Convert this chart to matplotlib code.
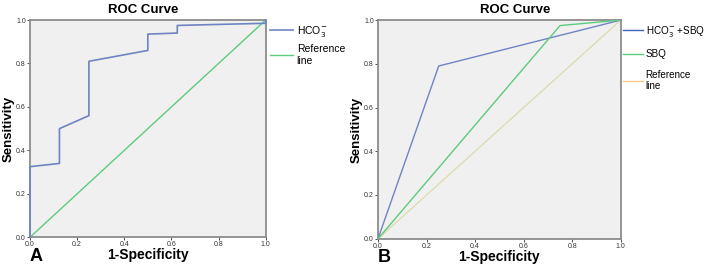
import matplotlib
matplotlib.use("Agg")
import matplotlib.pyplot as plt

plt.rcParams['font.family'] = ['Liberation Sans', 'DejaVu Sans']

# Panel A: HCO3- ROC curve
a_fpr = [0.0, 0.0, 0.125, 0.125, 0.25, 0.25, 0.5, 0.5, 0.625, 0.625, 1.0, 1.0]
a_tpr = [0.0, 0.325, 0.34, 0.50, 0.56, 0.81, 0.86, 0.935, 0.94, 0.975, 0.985, 1.0]

# Panel B: combined and SBQ
b_combo_fpr = [0.0, 0.25, 1.0]
b_combo_tpr = [0.0, 0.79, 1.0]
b_sbq_fpr = [0.0, 0.75, 1.0]
b_sbq_tpr = [0.0, 0.975, 1.0]

ref = [0.0, 1.0]
ticks = [0.0, 0.2, 0.4, 0.6, 0.8, 1.0]
tick_labels = ['0.0', '0.2', '0.4', '0.6', '0.8', '1.0']

fig = plt.figure(figsize=(7.07, 2.65), dpi=100)
axA = fig.add_axes([0.0424, 0.1045, 0.3334, 0.82])
axB = fig.add_axes([0.5347, 0.0992, 0.3433, 0.825])


def style(ax, title_x, ylab_x):
    ax.set_facecolor('#f0f0f0')
    ax.set_xlim(0, 1)
    ax.set_ylim(0, 1)
    ax.set_xticks(ticks)
    ax.set_yticks(ticks)
    ax.set_xticklabels(tick_labels)
    ax.set_yticklabels(tick_labels)
    ax.tick_params(labelsize=5, length=2, width=0.6, pad=1, colors='#333333')
    for s in ax.spines.values():
        s.set_color('#8c8c8c')
        s.set_linewidth(1.3)
    ax.set_title('ROC Curve', fontsize=9.5, fontweight='bold', pad=5, x=title_x)
    ax.set_xlabel('1-Specificity', fontsize=10, fontweight='bold', labelpad=0)
    ax.set_ylabel('Sensitivity', fontsize=9.5, fontweight='bold')
    ax.yaxis.set_label_coords(ylab_x, 0.5)


# panel A
axA.plot(a_fpr, a_tpr, color='#6f84c2', lw=1.2, label='HCO$_3^{-}$', clip_on=False, zorder=3)
axA.plot(ref, ref, color='#5ccc7c', lw=1.0, label='Reference\nline')
style(axA, 0.48, -0.066)
axA.legend(loc='upper left', bbox_to_anchor=(0.99, 1.01), frameon=False, fontsize=7.5,
           handlelength=2.2, handletextpad=0.4, labelspacing=0.5, borderaxespad=0.2)
fig.text(30, 265 - 248, 'A', transform=None, fontsize=13, fontweight='bold', va='top', ha='left')

# panel B
axB.plot(b_combo_fpr, b_combo_tpr, color='#6f84c2', lw=1.0, label='HCO$_3^{-}$ +SBQ', zorder=3)
axB.plot(b_sbq_fpr, b_sbq_tpr, color='#5ccc7c', lw=1.0, label='SBQ', zorder=3)
axB.plot(ref, ref, color='#dedcb4', lw=1.0, label='Reference\nline', zorder=2)
style(axB, 0.565, -0.062)
leg = axB.legend(loc='upper left', bbox_to_anchor=(0.985, 1.01), frameon=False, fontsize=7.1,
                 handlelength=2.0, handletextpad=0.3, labelspacing=1.05, borderaxespad=0.2)
leg.legend_handles[0].set_color('#3f63b8')
leg.legend_handles[2].set_color('#f7c98a')
fig.text(378, 265 - 249, 'B', transform=None, fontsize=13, fontweight='bold', va='top', ha='left')

fig.savefig('out.png', dpi=100)
